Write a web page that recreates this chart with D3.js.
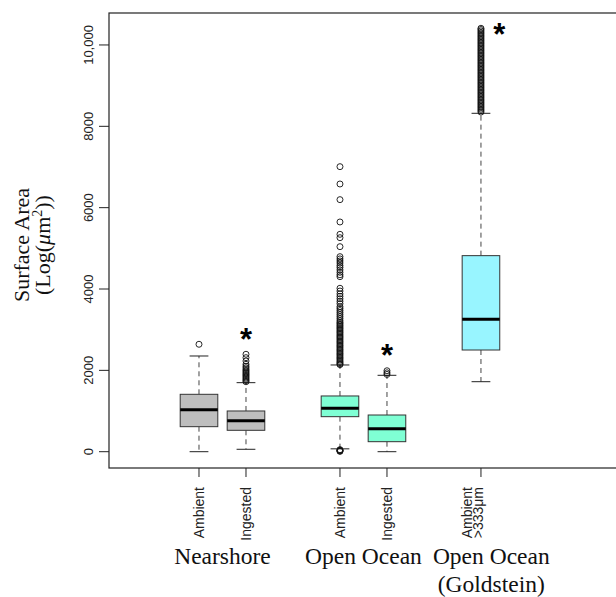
<!DOCTYPE html>
<html>
<head>
<meta charset="utf-8">
<script src="https://cdn.jsdelivr.net/npm/d3@7"></script>
<style>
  html, body { margin: 0; padding: 0; background: #fff; }
  svg { display: block; }
</style>
</head>
<body>
<div id="chart"></div>
<script>
// box positions and labels
const positions = [1, 2, 4, 5, 7];
const boxLabels = [["Ambient"], ["Ingested"], ["Ambient"], ["Ingested"], ["Ambient", ">333\u03BCm"]];
const groupNames = [["Nearshore"], ["Open Ocean"], ["Open Ocean", "(Goldstein)"]];
const groupCenters = [1.5, 4.5, 7.22];
const yTicks = [0, 2000, 4000, 6000, 8000, 10000];

// five-number summaries
const lowerWhisker = [0, 59, 70, 0, 1721];
const q1 = [615, 526, 861, 246, 2500];
const median = [1033, 762, 1067, 566, 3255];
const q3 = [1411, 1001, 1370, 902, 4820];
const upperWhisker = [2353, 1697, 2132, 1878, 8320];

// outliers per box
const outNearAmb = [2641];
const outNearIng = [2395, 2312, 2230, 2148, 2100, 2060, 2020, 1990, 1960, 1930, 1900,
  1870, 1840, 1810, 1780, 1750, 1720];
const outOceanAmb = [7008, 6582, 6197, 5648, 5345, 5262, 5041, 4795, 4740, 4690, 4640,
  4580, 4530, 4470, 4410, 4350, 4303, 4018, 3950, 3880, 3820, 3760, 3700, 3640, 3565,
  3520, 3470, 3420, 3370, 3320, 3270, 3220, 3180, 3150, 3115, 3085, 3050, 3020, 2985,
  2950, 2920, 2885, 2850, 2820, 2790, 2755, 2720, 2690, 2655, 2620, 2590, 2555, 2520,
  2490, 2455, 2420, 2390, 2355, 2320, 2290, 2255, 2220, 2190, 2160, 2140,
  50, 38, 28, 18, 8];
const outOceanIng = [1990, 1940, 1900];
const outGoldstein = [10410, 10380, 10345, 10310, 10275, 10240, 10205, 10170, 10135,
  10100, 10065, 10030, 9995, 9960, 9925, 9890, 9855, 9820, 9785, 9750, 9715, 9680,
  9645, 9610, 9575, 9540, 9505, 9470, 9435, 9400, 9365, 9330, 9295, 9260, 9225, 9190,
  9155, 9120, 9085, 9050, 9015, 8980, 8945, 8910, 8875, 8840, 8805, 8770, 8735, 8700,
  8665, 8630, 8595, 8560, 8525, 8490, 8455, 8420, 8385, 8350];
const outliers = [outNearAmb, outNearIng, outOceanAmb, outOceanIng, outGoldstein];

// significance stars (box position, value)
const starPos = [2, 5, 7.39];
const starVal = [2894, 2500, 10393];

const boxColors = ["#bebebe", "#bebebe", "#7fffd4", "#7fffd4", "#98f5ff"];

const width = 616, height = 597;
const svg = d3.select("#chart").append("svg")
  .attr("width", width).attr("height", height);

const x = d3.scaleLinear().domain([-0.915, 9.98]).range([109, 621]);
const y = d3.scaleLinear().domain([-401, 10786]).range([468, 13]);
const unit = x(1) - x(0);
const boxW = unit * 0.8;

const boxes = positions.map((p, i) => ({
  p, lo: lowerWhisker[i], q1: q1[i], med: median[i], q3: q3[i], hi: upperWhisker[i],
  out: outliers[i], fill: boxColors[i], label: boxLabels[i]
}));

const plot = svg.append("g");

// whiskers
const wg = plot.selectAll("g.box").data(boxes).join("g").attr("class", "box");
wg.append("line")
  .attr("x1", d => x(d.p)).attr("x2", d => x(d.p))
  .attr("y1", d => y(d.q3)).attr("y2", d => y(d.hi))
  .attr("stroke", "#444").attr("stroke-dasharray", "5,4");
wg.append("line")
  .attr("x1", d => x(d.p)).attr("x2", d => x(d.p))
  .attr("y1", d => y(d.q1)).attr("y2", d => y(d.lo))
  .attr("stroke", "#444").attr("stroke-dasharray", "5,4");
wg.selectAll("line.cap").data(d => [d.lo, d.hi].map(v => ({p: d.p, v}))).join("line")
  .attr("class", "cap")
  .attr("x1", d => x(d.p) - boxW / 4).attr("x2", d => x(d.p) + boxW / 4)
  .attr("y1", d => y(d.v)).attr("y2", d => y(d.v))
  .attr("stroke", "#222");
wg.append("rect")
  .attr("x", d => x(d.p) - boxW / 2).attr("width", boxW)
  .attr("y", d => y(d.q3)).attr("height", d => y(d.q1) - y(d.q3))
  .attr("fill", d => d.fill).attr("stroke", "#333").attr("stroke-width", 1);
wg.append("line")
  .attr("x1", d => x(d.p) - boxW / 2).attr("x2", d => x(d.p) + boxW / 2)
  .attr("y1", d => y(d.med)).attr("y2", d => y(d.med))
  .attr("stroke", "#000").attr("stroke-width", 3);
wg.selectAll("circle").data(d => d.out.map(v => ({p: d.p, v}))).join("circle")
  .attr("cx", d => x(d.p)).attr("cy", d => y(d.v)).attr("r", 3)
  .attr("fill", "none").attr("stroke", "#111").attr("stroke-width", 0.9);

// stars
plot.selectAll("text.star").data(starPos).join("text")
  .attr("class", "star")
  .attr("x", d => x(d))
  .attr("y", (d, i) => y(starVal[i]) + 16)
  .attr("text-anchor", "middle")
  .attr("font-family", "Liberation Sans, Arial, sans-serif")
  .attr("font-weight", "bold").attr("font-size", 31)
  .text("*");

// frame
svg.append("rect")
  .attr("x", 109).attr("y", 13).attr("width", 600).attr("height", 455)
  .attr("fill", "none").attr("stroke", "#222").attr("stroke-width", 1.2);

// y axis
const ya = svg.append("g");
ya.selectAll("line").data(yTicks).join("line")
  .attr("x1", 99).attr("x2", 109).attr("y1", d => y(d)).attr("y2", d => y(d))
  .attr("stroke", "#222");
ya.selectAll("text").data(yTicks).join("text")
  .attr("transform", d => `translate(93,${y(d)}) rotate(-90)`)
  .attr("text-anchor", "middle")
  .attr("font-family", "Liberation Sans, Arial, sans-serif")
  .attr("font-size", 13).attr("fill", "#222")
  .text(d => d >= 10000 ? d3.format(",")(d) : d);

// x axis ticks and rotated labels
const xa = svg.append("g");
xa.selectAll("line").data(positions).join("line")
  .attr("x1", d => x(d)).attr("x2", d => x(d)).attr("y1", 468).attr("y2", 477)
  .attr("stroke", "#222");
boxes.forEach(b => {
  const n = b.label.length;
  b.label.forEach((t, j) => {
    const bx = n === 1 ? x(b.p) + 5 : x(b.p) - 9 + j * 11;
    xa.append("text")
      .attr("transform", `translate(${bx},487) rotate(-90)`)
      .attr("text-anchor", "end")
      .attr("font-family", "Liberation Sans, Arial, sans-serif")
      .attr("font-size", 14).attr("fill", "#222")
      .text(t);
  });
});

// group names
groupNames.forEach((lines, i) => {
  lines.forEach((t, j) => {
    svg.append("text")
      .attr("x", x(groupCenters[i])).attr("y", 564 + j * 28)
      .attr("text-anchor", "middle")
      .attr("font-family", "Liberation Serif, Times New Roman, serif")
      .attr("font-size", 23.5).attr("fill", "#111")
      .text(t);
  });
});

// y label
const yl = svg.append("text")
  .attr("transform", "translate(29,245) rotate(-90)")
  .attr("text-anchor", "middle")
  .attr("font-family", "Liberation Serif, Times New Roman, serif")
  .attr("font-size", 22).attr("fill", "#111");
yl.append("tspan").attr("x", 0).attr("y", 0).text("Surface Area");
const l2 = yl.append("tspan").attr("x", 0).attr("y", 21);
l2.append("tspan").text("(Log(");
l2.append("tspan").attr("font-style", "italic").text("\u03BC");
l2.append("tspan").text("m");
l2.append("tspan").attr("font-size", 14).attr("dy", -8).text("2");
l2.append("tspan").attr("dy", 8).text("))");
</script>
</body>
</html>
